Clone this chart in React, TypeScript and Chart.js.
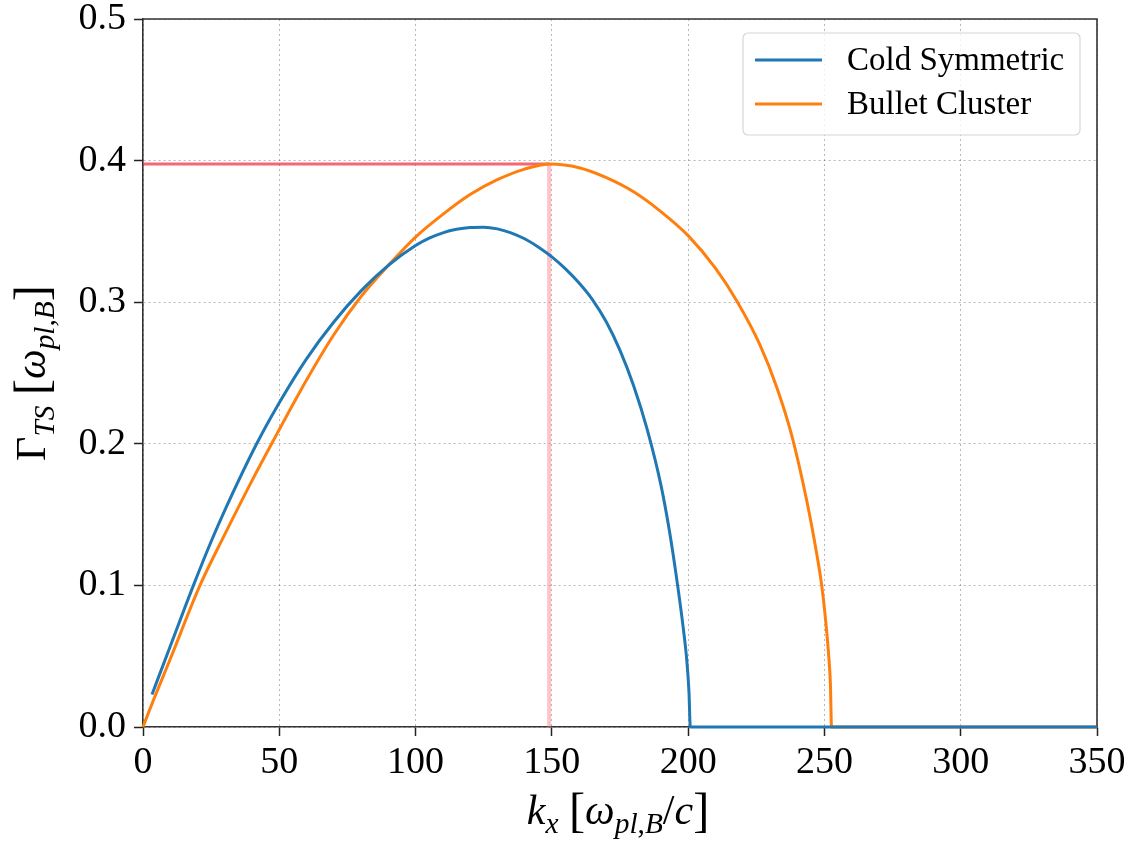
import React, { useEffect, useRef } from "react";
import { Chart, registerables } from "chart.js";

Chart.register(...registerables);

// ---- data ----
const coldK = [3.3, 10, 18.5, 25, 30, 41.7, 50, 60, 70, 80, 90, 100, 105, 110, 115, 120, 125, 130, 135, 140, 145, 150, 155, 160, 165, 170, 175, 180, 185, 190, 193, 195.7, 198.2, 199.6, 200.3, 200.8, 250, 300, 350];
const coldGamma = [0.023, 0.057, 0.1, 0.131, 0.153, 0.2, 0.229, 0.26, 0.286, 0.308, 0.326, 0.34, 0.3452, 0.349, 0.3515, 0.3528, 0.353, 0.3518, 0.349, 0.3448, 0.339, 0.332, 0.3235, 0.3135, 0.3015, 0.286, 0.266, 0.241, 0.21, 0.171, 0.14, 0.106, 0.07, 0.045, 0.025, 0, 0, 0, 0];

const bulletK = [0, 2.6, 10, 20.9, 30, 40, 47.2, 60, 70, 80, 90, 100, 110, 120, 130, 140, 149.3, 160, 170, 180, 190, 200, 210, 217.8, 226.3, 232.5, 238, 243.5, 247.2, 249, 250.2, 251.5, 252.2, 252.6, 300, 350];
const bulletGamma = [0, 0.013, 0.048, 0.1, 0.136, 0.174, 0.2, 0.245, 0.277, 0.304, 0.326, 0.346, 0.362, 0.376, 0.3865, 0.394, 0.3976, 0.395, 0.388, 0.378, 0.364, 0.347, 0.324, 0.301, 0.27, 0.24, 0.206, 0.16, 0.122, 0.1, 0.08, 0.052, 0.03, 0, 0, 0];

const peakK = 149;
const peakGamma = 0.3976;

const seriesLabels = ["Cold Symmetric", "Bullet Cluster"];
const seriesColors = ["#1f77b4", "#ff7f0e"];
const xTicks = [0, 50, 100, 150, 200, 250, 300, 350];
const yTicks = [0, 0.1, 0.2, 0.3, 0.4, 0.5];

const FAMILY = "'Liberation Serif', 'DejaVu Serif', serif";

type Seg = { t: string; it?: boolean; sub?: boolean; big?: boolean };

function drawRich(ctx: CanvasRenderingContext2D, segs: Seg[], cx: number, cy: number, size: number) {
  const subSize = size * 0.7;
  const fontOf = (s: Seg) =>
    `${s.it ? "italic " : ""}${s.sub ? subSize : s.big ? size * 1.15 : size}px ${FAMILY}`;
  let total = 0;
  const widths = segs.map((s) => {
    ctx.font = fontOf(s);
    const w = ctx.measureText(s.t).width;
    total += w;
    return w;
  });
  let x = cx - total / 2;
  ctx.textBaseline = "alphabetic";
  ctx.textAlign = "left";
  ctx.fillStyle = "#000";
  segs.forEach((s, i) => {
    ctx.font = fontOf(s);
    ctx.fillText(s.t, x, cy + (s.sub ? size * 0.22 : s.big ? size * 0.05 : 0));
    x += widths[i];
  });
}

const xTitle: Seg[] = [
  { t: "k", it: true },
  { t: "x", it: true, sub: true },
  { t: " " },
  { t: "[", big: true },
  { t: "ω", it: true },
  { t: "pl", it: true, sub: true },
  { t: ",", sub: true },
  { t: "B", it: true, sub: true },
  { t: "/" },
  { t: "c", it: true },
  { t: "]", big: true },
];

const yTitle: Seg[] = [
  { t: "Γ" },
  { t: "TS", it: true, sub: true },
  { t: " " },
  { t: "[", big: true },
  { t: "ω", it: true },
  { t: "pl", it: true, sub: true },
  { t: ",", sub: true },
  { t: "B", it: true, sub: true },
  { t: "]", big: true },
];

const decorPlugin = {
  id: "decor",
  beforeDatasetsDraw(chart: any) {
    const { ctx, chartArea: a } = chart;
    ctx.save();
    ctx.strokeStyle = "#333";
    ctx.lineWidth = 1.6;
    ctx.beginPath();
    ctx.moveTo(a.left, a.top);
    ctx.lineTo(a.right, a.top);
    ctx.lineTo(a.right, a.bottom);
    ctx.stroke();
    ctx.restore();
  },
  afterDraw(chart: any) {
    const { ctx, chartArea: a } = chart;
    ctx.save();
    // axis titles
    drawRich(ctx, xTitle, (a.left + a.right) / 2 - 2, 824, 42);
    ctx.save();
    ctx.translate(45, (a.top + a.bottom) / 2);
    ctx.rotate(-Math.PI / 2);
    drawRich(ctx, yTitle, 0, 0, 42);
    ctx.restore();

    // legend
    const w = 337, h = 102;
    const bx = a.right - 17 - w;
    const by = a.top + 14;
    ctx.beginPath();
    const r = 5;
    ctx.moveTo(bx + r, by);
    ctx.lineTo(bx + w - r, by);
    ctx.arcTo(bx + w, by, bx + w, by + r, r);
    ctx.lineTo(bx + w, by + h - r);
    ctx.arcTo(bx + w, by + h, bx + w - r, by + h, r);
    ctx.lineTo(bx + r, by + h);
    ctx.arcTo(bx, by + h, bx, by + h - r, r);
    ctx.lineTo(bx, by + r);
    ctx.arcTo(bx, by, bx + r, by, r);
    ctx.closePath();
    ctx.fillStyle = "rgba(255,255,255,0.8)";
    ctx.fill();
    ctx.strokeStyle = "#d6d6d6";
    ctx.lineWidth = 1.2;
    ctx.stroke();
    const legendDs = chart.data.datasets.filter((d: any) => d.inLegend);
    legendDs.forEach((d: any, i: number) => {
      const ly = by + 27 + i * 44;
      ctx.strokeStyle = d.borderColor;
      ctx.lineWidth = 3;
      ctx.beginPath();
      ctx.moveTo(bx + 12, ly);
      ctx.lineTo(bx + 79, ly);
      ctx.stroke();
      ctx.fillStyle = "#000";
      ctx.font = `33px ${FAMILY}`;
      ctx.textAlign = "left";
      ctx.textBaseline = "middle";
      ctx.fillText(d.label, bx + 104, ly + 1);
    });
    ctx.restore();
  },
};

const zeroPad = (s: any) => {
  s.paddingTop = 0;
  s.paddingBottom = 0;
  s.paddingLeft = 0;
  s.paddingRight = 0;
};

export default function App() {
  const ref = useRef<HTMLCanvasElement | null>(null);
  useEffect(() => {
    document.body.style.margin = "0";
    const canvas = ref.current!;
    const line = (ks: number[], gs: number[], i: number) => ({
      label: seriesLabels[i],
      inLegend: true,
      data: ks.map((k, j) => ({ x: k, y: gs[j] })),
      borderColor: seriesColors[i],
      backgroundColor: seriesColors[i],
      borderWidth: 3,
      pointRadius: 0,
      showLine: true,
      cubicInterpolationMode: "monotone",
      clip: false,
      order: 1,
    });
    const gridOpts = {
      color: "rgba(0,0,0,0.28)",
      lineWidth: 1,
      tickLength: 9,
      tickColor: "#222",
      tickWidth: 1.5,
      tickBorderDash: [],
    };
    const chart = new Chart(canvas, {
      type: "scatter",
      data: {
        datasets: [
          {
            label: "peak-h",
            data: [
              { x: 0, y: peakGamma },
              { x: peakK, y: peakGamma },
            ],
            borderColor: "rgba(240,40,55,0.7)",
            borderWidth: 3,
            pointRadius: 0,
            showLine: true,
            clip: false,
            order: 3,
          } as any,
          {
            label: "peak-v",
            data: [
              { x: peakK, y: 0 },
              { x: peakK, y: peakGamma },
            ],
            borderColor: "rgba(255,120,135,0.45)",
            borderWidth: 4,
            pointRadius: 0,
            showLine: true,
            clip: false,
            order: 2,
          } as any,
          line(coldK, coldGamma, 0) as any,
          line(bulletK, bulletGamma, 1) as any,
        ],
      },
      options: {
        responsive: false,
        animation: false,
        devicePixelRatio: 1,
        layout: { padding: { top: 19, right: 35, left: 0, bottom: 0 } },
        plugins: {
          legend: { display: false },
          tooltip: { enabled: false },
        },
        scales: {
          x: {
            type: "linear",
            min: 0,
            max: 350,
            afterBuildTicks: (s: any) => {
              s.ticks = xTicks.map((v) => ({ value: v }));
            },
            afterFit: (s: any) => {
              s.height = 842 - 727;
              zeroPad(s);
            },
            ticks: {
              color: "#000",
              font: { family: FAMILY, size: 38 },
              padding: 4,
              maxRotation: 0,
              callback: (v: any) => String(v),
            },
            grid: gridOpts,
            border: { display: true, color: "#333", width: 1.6, dash: [2, 3] },
          },
          y: {
            type: "linear",
            min: 0,
            max: 0.5,
            afterBuildTicks: (s: any) => {
              s.ticks = yTicks.map((v) => ({ value: v }));
            },
            afterFit: (s: any) => {
              s.width = 143;
              zeroPad(s);
            },
            ticks: {
              color: "#000",
              font: { family: FAMILY, size: 38 },
              padding: 8,
              callback: (v: any) => Number(v).toFixed(1),
            },
            grid: gridOpts,
            border: { display: true, color: "#333", width: 1.6, dash: [2, 3] },
          },
        },
      } as any,
      plugins: [decorPlugin],
    });
    return () => chart.destroy();
  }, []);
  return <canvas ref={ref} width={1132} height={842} style={{ display: "block" }} />;
}
